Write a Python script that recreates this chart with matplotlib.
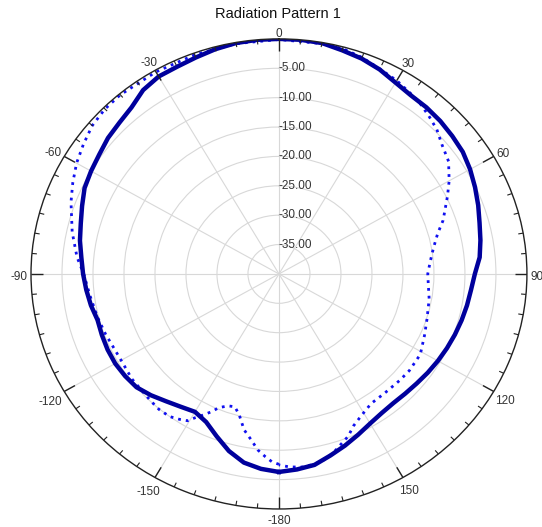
import numpy as np
import matplotlib
matplotlib.use('Agg')
import matplotlib.pyplot as plt

plt.rcParams['font.family'] = ['Liberation Sans', 'DejaVu Sans']

# solid trace (deg, dB)
ang_solid = [-180, -175, -170, -165, -160, -155, -150, -145, -140, -135, -130, -125,
             -120, -115, -110, -105, -100, -95, -90, -85, -80, -75, -70, -65, -60,
             -55, -50, -45, -40, -35, -30, -25, -20, -15, -10, -5, 0, 5, 10, 15, 20,
             25, 30, 35, 40, 45, 50, 55, 60, 65, 70, 75, 80, 85, 90, 95, 100, 105,
             110, 115, 120, 125, 130, 135, 140, 145, 150, 155, 160, 165, 170, 175, 180]
db_solid = [-6.3, -6.7, -7.4, -8.8, -10.6, -12.2, -12.9, -12.4, -11.7, -10.8, -10.0, -9.7,
            -9.5, -9.5, -9.6, -9.7, -9.2, -8.8, -8.4, -8.0, -7.4, -6.9, -6.2, -5.4, -5.0,
            -4.6, -4.0, -3.6, -3.0, -1.8, -1.2, -1.1, -0.8, -0.4, -0.1, 0.0, 0.0, 0.0, -0.1, -0.6, -1.0,
            -1.6, -2.4, -2.9, -3.0, -3.2, -3.5, -3.8, -4.4, -5.1, -5.8, -6.5, -7.0, -7.5, -8.4, -8.9, -9.2, -9.5,
            -9.8, -10.1, -10.4, -10.7, -11.0, -11.2, -11.3, -11.1, -10.6, -9.8, -8.9, -8.0, -7.0, -6.6, -6.3]

# dotted trace (deg, dB)
ang_dot = [-180, -178, -176, -173.5, -171, -168, -165, -162.5, -160, -157, -155, -153,
           -151, -149.5, -147, -144, -140, -136, -127, -120, -110, -104, -97, -90, -85,
           -78, -70, -65, -60, -55, -50, -45, -40, -30, -20, -10, 0, 10, 15, 20, 25,
           30, 35, 38, 42, 46, 50, 55, 60, 64, 71, 75, 80, 85, 90, 95, 100, 108, 114,
           121, 128, 133, 140, 146, 151, 155, 158, 164, 168, 173, 177, 180]
db_dot = [-7.6, -8.0, -8.8, -9.85, -11.4, -12.9, -15.2, -16.3, -16.1, -15.3, -14.1, -13.05,
          -12.0, -11.0, -10.5, -10.0, -9.9, -10.1, -10.3, -10.6, -10.2, -9.8, -9.3, -8.5, -7.3,
          -5.9, -4.3, -3.3, -2.3, -1.5, -0.7, -0.3, -0.2, -0.3, -0.3, -0.2, -0.1, -0.2, -0.3, -0.8, -1.5,
          -2.0, -2.7, -3.1, -3.85, -4.6, -5.7, -6.6, -8.3, -9.75, -12.0, -13.5, -14.7, -15.5, -16.0, -15.8, -15.4, -14.9, -14.3,
          -13.4, -13.3, -13.4, -13.5, -13.4, -12.5, -11.5, -10.2, -8.3, -7.3, -6.9, -7.1, -7.5]

rings = [-35, -30, -25, -20, -15, -10, -5]
theta_ticks = [0, 30, 60, 90, 120, 150, 180, 210, 240, 270, 300, 330]
theta_labels = ['0', '30', '60', '90', '120', '150', '-180', '-150', '-120', '-90', '-60', '-30']

fig = plt.figure(figsize=(5.42, 5.27), dpi=100)
ax = fig.add_axes([0.0572, 0.0342, 0.915, 0.892], projection='polar')
ax.set_aspect('auto')
ax.set_theta_zero_location('N')
ax.set_theta_direction(-1)
ax.set_ylim(-40, 0)

ax.plot(np.deg2rad(ang_dot), db_dot, color='#1010f0', lw=2.0, ls=(0, (1, 1.8)))
ax.plot(np.deg2rad(ang_solid), db_solid, color='#00009c', lw=3.2)

ax.set_thetagrids(theta_ticks, [''] * len(theta_ticks))
ax.tick_params(axis='x', which='major', length=0)

# angle labels just outside the rim
for a, lab in zip(theta_ticks, theta_labels):
    ux, uy = np.sin(np.deg2rad(a)), np.cos(np.deg2rad(a))
    w, h = 5.2 * len(lab), 8.0
    d = 4.5 + (abs(ux) * w + abs(uy) * h) / 2
    ax.annotate(lab, xy=(np.deg2rad(a), 0), xytext=(ux * d * 0.72, (uy * d - 3.2) * 0.72),
                textcoords='offset points', ha='center', va='center',
                fontsize=8.5, color='#333333', annotation_clip=False)

# inward tick marks on the rim: every 5 deg, longer every 30 deg
minor = np.deg2rad([a for a in range(0, 360, 5) if a % 30])
major = np.deg2rad(theta_ticks)
ax.vlines(minor, -0.8, 0, color='#222222', lw=0.8)
ax.vlines(major, -2.0, 0, color='#222222', lw=1.0)

ax.set_yticks(rings)
ax.set_yticklabels([])
for r in rings:
    ax.text(0, r, '%.2f' % r, ha='left', va='center', fontsize=8.5, color='#333333')

ax.grid(True, color='#d8d8d8', lw=0.8)
ax.spines['polar'].set_color('#222222')
ax.spines['polar'].set_linewidth(1.0)

fig.text(0.513, 0.973, 'Radiation Pattern 1', ha='center', va='center', fontsize=10.5, color='#111111')

fig.savefig('out.png', dpi=100, facecolor='white')
